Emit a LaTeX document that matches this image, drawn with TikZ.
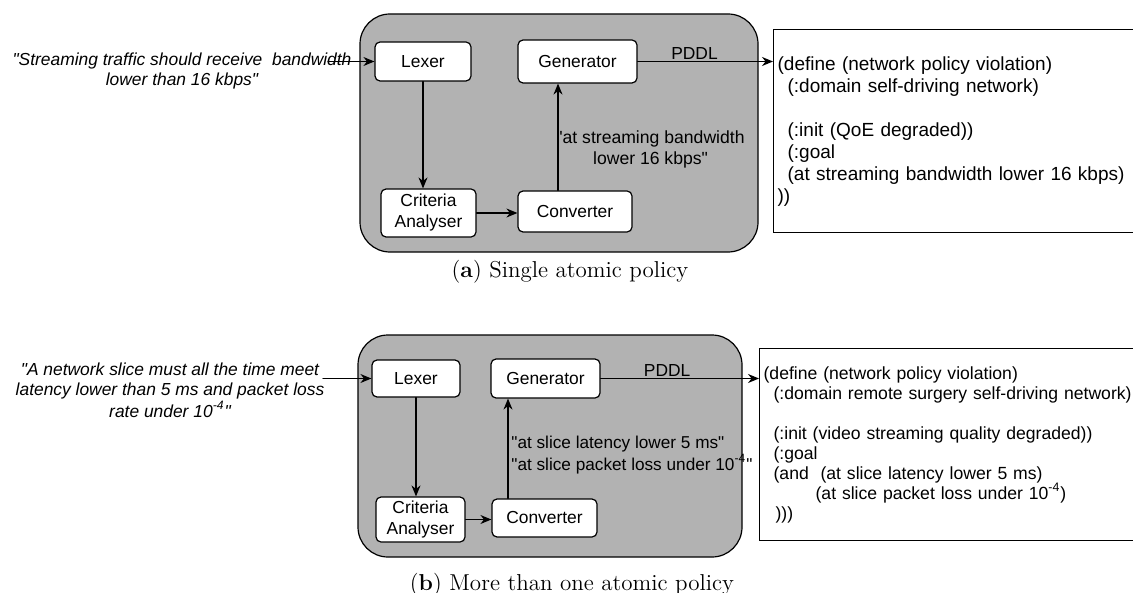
\documentclass[tikz,border=0pt]{standalone}
\usepackage{fontspec}
\setsansfont{Liberation Sans}[Ligatures=TeXOff]
\usetikzlibrary{arrows.meta}
\definecolor{fillP}{rgb}{0.70,0.70,0.70}

\begin{document}
\begin{tikzpicture}[>={Stealth[length=5.5pt,width=4.5pt]}, line cap=round, x=0.5pt, y=-0.5pt,
  blk/.style={draw, line width=0.6pt, rounded corners=2.5pt, fill=white, align=center,
    inner sep=0pt, font=\sffamily\fontsize{8.7}{10.5}\selectfont},
  flow/.style={->, line width=0.6pt},
  txt/.style={inner sep=0pt, align=center, font=\sffamily\fontsize{8.7}{10}\selectfont},
  said/.style={txt, font=\sffamily\itshape\fontsize{8.7}{10}\selectfont},
  code/.style={draw, line width=0.6pt, anchor=north west, align=left, inner xsep=2pt},
  captext/.style={inner sep=0pt, font=\fontsize{11.5}{13}\selectfont}]
\useasboundingbox (0,0) rectangle (1133,593);
% ---------- (a) 单一原子策略 ----------
\draw[line width=0.6pt, fill=fillP, rounded corners=15pt] (360,14) rectangle (758,252);
\node[blk, minimum width=48pt, minimum height=19.5pt] (lexA) at (423,61.5) {Lexer};
\node[blk, minimum width=59.5pt, minimum height=21.5pt] (genA) at (577.5,61.5) {Generator};
\node[blk, minimum width=47.5pt, minimum height=24pt] (criA) at (428.5,213) {Criteria\\Analyser};
\node[blk, minimum width=57pt, minimum height=20.5pt] (conA) at (575,211.5) {Converter};
\node[code, minimum width=190pt, minimum height=101.5pt, text width=186pt,
  font=\sffamily\fontsize{9.5}{11}\selectfont] (codeA) at (773,29)
  {(define (network policy violation)\\
   \hspace*{5pt}(:domain self-driving network)\\[11pt]
   \hspace*{5pt}(:init (QoE degraded))\\
   \hspace*{5pt}(:goal\\
   \hspace*{5pt}(at streaming bandwidth lower 16 kbps)\\
   ))};
\node[said] (inA) at (182,71) {"Streaming traffic should receive\ \ bandwidth\\lower than 16 kbps"};
\coordinate (inA-tip) at (328,61.5);
\node[txt, font=\sffamily\fontsize{8.8}{10.5}\selectfont, anchor=west] (lblA) at (556,149)
  {"at streaming bandwidth\\lower 16 kbps"};
\draw[flow] (inA-tip) -- (lexA.west);
\draw[flow] (lexA.south) -- (lexA.south |- criA.north);
\draw[flow] (criA.east) -- (criA.east -| conA.west);
\draw[flow] ([xshift=-8.5pt]conA.north) -- ([xshift=-8.5pt]conA.north |- genA.south);
\draw[flow] (genA.east) -- (genA.east -| codeA.west)
  node[txt, pos=0.42, anchor=south, yshift=0.5pt] {PDDL};
\node[captext] (capA) at (570,272) {(\textbf{a}) Single atomic policy};
% ---------- (b) 多个原子策略 ----------
\draw[line width=0.6pt, fill=fillP, rounded corners=15pt] (358,335) rectangle (742,557);
\node[blk, minimum width=44pt, minimum height=18.5pt] (lexB) at (416,378.5) {Lexer};
\node[blk, minimum width=54.5pt, minimum height=19.5pt] (genB) at (545.5,378.5) {Generator};
\node[blk, minimum width=44.5pt, minimum height=22.5pt] (criB) at (420.5,519.5) {Criteria\\Analyser};
\node[blk, minimum width=52.5pt, minimum height=19pt] (conB) at (544.5,518) {Converter};
\node[code, minimum width=190pt, minimum height=96pt, text width=186pt,
  font=\sffamily\fontsize{8.8}{10}\selectfont] (codeB) at (759,348)
  {(define (network policy violation)\\
   \hspace*{5pt}(:domain remote surgery self-driving network)\\[10pt]
   \hspace*{5pt}(:init (video streaming quality degraded))\\
   \hspace*{5pt}(:goal\\
   \hspace*{5pt}(and\ \ (at slice latency lower 5 ms)\\
   \hspace*{26pt}(at slice packet loss under 10\textsuperscript{-4})\\
   \hspace*{6pt})))};
\node[said] (inB) at (170,390) {"A network slice must all the time meet\\latency lower than 5 ms and packet loss\\[1pt]rate under 10\textsuperscript{-4}"};
\coordinate (inB-tip) at (323,378.5);
\node[txt, font=\sffamily\fontsize{8.6}{11}\selectfont, anchor=west, align=left] (lblB) at (511,455)
  {"at slice latency lower 5 ms"\\"at slice packet loss under 10\textsuperscript{-4}"};
\draw[flow] (inB-tip) -- (lexB.west);
\draw[flow] (lexB.south) -- (lexB.south |- criB.north);
\draw[flow] (criB.east) -- (criB.east -| conB.west);
\draw[flow] ([xshift=-18.25pt]conB.north) -- ([xshift=-18.25pt]conB.north |- genB.south);
\draw[flow] (genB.east) -- (genB.east -| codeB.west)
  node[txt, pos=0.42, anchor=south, yshift=0.5pt] {PDDL};
\node[captext] (capB) at (572,585) {(\textbf{b}) More than one atomic policy};
\end{tikzpicture}
\end{document}
